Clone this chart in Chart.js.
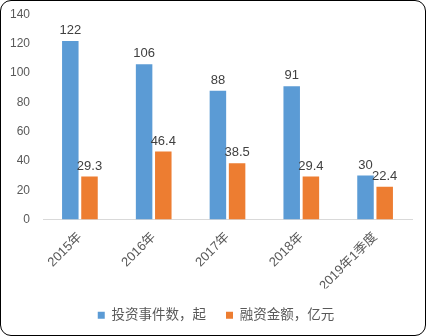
<!DOCTYPE html>
<html><head><meta charset="utf-8">
<script src="https://cdn.jsdelivr.net/npm/chart.js@4/dist/chart.umd.min.js"></script>
<style>
html,body{margin:0;padding:0;background:#fff;}
#wrap{width:424px;height:334px;border:1px solid #000;border-radius:11px;overflow:hidden;position:relative;}
canvas{display:block;}
</style></head>
<body><div id="wrap"><canvas id="c"></canvas></div>
<script>
const categories = ['2015年','2016年','2017年','2018年','2019年1季度'];
const investEvents = [122,106,88,91,30];
const financing = [29.3,46.4,38.5,29.4,22.4];
const seriesNames = ['投资事件数，起','融资金额，亿元'];
const yTicks = [0,20,40,60,80,100,120,140];

const FONT = '"Liberation Sans","Noto Sans CJK SC",sans-serif';

const valueLabels = {
  id:'valueLabels',
  afterDatasetsDraw(chart){
    const ctx = chart.ctx;
    ctx.save();
    ctx.font = '13px ' + FONT;
    ctx.fillStyle = '#404040';
    ctx.textAlign = 'center';
    ctx.textBaseline = 'bottom';
    chart.data.datasets.forEach((ds,i)=>{
      const meta = chart.getDatasetMeta(i);
      meta.data.forEach((bar,j)=>{
        ctx.fillText(String(ds.data[j]), bar.x, bar.y - 4);
      });
    });
    ctx.restore();
  }
};

new Chart(document.getElementById('c'), {
  type:'bar',
  data:{
    labels:categories,
    datasets:[
      {label:seriesNames[0], data:investEvents, backgroundColor:'#5B9BD5', categoryPercentage:0.52, barPercentage:0.86},
      {label:seriesNames[1], data:financing, backgroundColor:'#ED7D31', categoryPercentage:0.52, barPercentage:0.86}
    ]
  },
  options:{
    responsive:true, maintainAspectRatio:false, animation:false,
    layout:{padding:{left:6,right:0,top:0,bottom:3}},
    plugins:{
      legend:{position:'bottom',
        labels:{font:{size:13.5,family:FONT},color:'#595959',boxWidth:7,boxHeight:7,padding:20}},
      tooltip:{enabled:false}
    },
    scales:{
      x:{
        grid:{display:true,drawOnChartArea:false,drawTicks:false,color:'transparent'},
        border:{display:true,color:'#D9D9D9',width:1},
        ticks:{color:'#595959',font:{size:13,family:FONT},minRotation:45,maxRotation:45,padding:10},
        afterFit(s){s.height = 69;}
      },
      y:{
        min:0,max:140,
        grid:{display:false,drawTicks:false},
        border:{display:false},
        afterBuildTicks(s){s.ticks = yTicks.map(v=>({value:v}));},
        ticks:{color:'#595959',font:{size:12,family:FONT,lineHeight:0.1},padding:13},
        afterFit(s){s.width = 36;}
      },
      yr:{
        position:'right', display:true, min:0, max:140,
        grid:{display:false,drawTicks:false},
        border:{display:false},
        ticks:{display:false},
        afterFit(s){s.width = 13;}
      }
    }
  },
  plugins:[valueLabels]
});
</script></body></html>
